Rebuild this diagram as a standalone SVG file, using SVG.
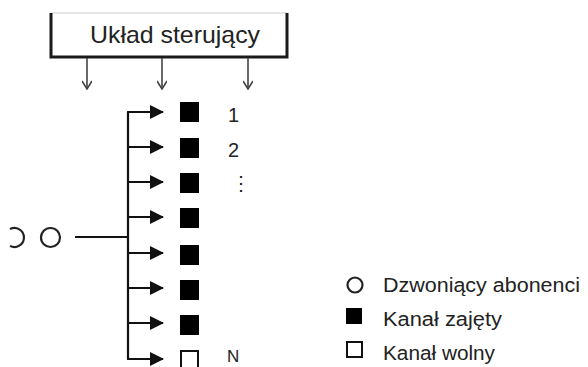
<svg xmlns="http://www.w3.org/2000/svg" width="588" height="367" viewBox="0 0 588 367">
  <style>
    .txt { font-family: "Liberation Sans", Arial, sans-serif; fill: #222; }
    .bus { fill: none; stroke: #111; stroke-width: 2.2; }
    .ctl { fill: none; stroke: #444; stroke-width: 1.6; }
    .occ { fill: #000; }
    .free { fill: #fff; stroke: #111; stroke-width: 2; }
    .sub { fill: none; stroke: #222; stroke-width: 2.2; }
  </style>
  <defs>
    <marker id="tri" viewBox="0 0 14 14" refX="13" refY="7" markerWidth="14" markerHeight="14" markerUnits="userSpaceOnUse" orient="auto">
      <path d="M0,0 L14,7 L0,14 Z" fill="#111"/>
    </marker>
    <marker id="chev" viewBox="0 0 12 10" refX="11" refY="5" markerWidth="12" markerHeight="10" markerUnits="userSpaceOnUse" orient="auto">
      <path d="M3,0 L11,5 L3,10" fill="none" stroke="#444" stroke-width="1.6"/>
    </marker>
  </defs>

  <!-- control unit -->
  <g id="control-unit">
    <line x1="51" y1="13" x2="287" y2="13" stroke="#ccc" stroke-width="1"/>
    <path d="M51,13 L51,57 L287,57 L287,13" fill="none" stroke="#1a1a1a" stroke-width="3"/>
    <text class="txt" x="90" y="43" font-size="24" textLength="170" lengthAdjust="spacingAndGlyphs">Układ sterujący</text>
  </g>

  <!-- calling subscribers -->
  <g id="subscribers">
    <path class="sub" d="M10,229.1 A9.5,9.5 0 1 1 10,245.9"/>
    <circle class="sub" cx="50.5" cy="237.5" r="9.5"/>
  </g>

  <!-- channels -->
  <g id="channel-1"><rect class="occ" x="180" y="102" width="19" height="20"/><text class="txt" x="228" y="122" font-size="20">1</text></g>
  <g id="channel-2"><rect class="occ" x="180" y="138" width="19" height="20"/><text class="txt" x="228" y="157" font-size="20">2</text></g>
  <g id="channel-3"><rect class="occ" x="180" y="173" width="19" height="20"/><text class="txt" x="231" y="190" font-size="20" fill="#999">⋮</text></g>
  <g id="channel-4"><rect class="occ" x="180" y="208" width="19" height="20"/></g>
  <g id="channel-5"><rect class="occ" x="180" y="245" width="19" height="20"/></g>
  <g id="channel-6"><rect class="occ" x="180" y="280" width="19" height="20"/></g>
  <g id="channel-7"><rect class="occ" x="180" y="315" width="19" height="20"/></g>
  <g id="channel-N"><rect class="free" x="181" y="351" width="17" height="20"/><text class="txt" x="227" y="362" font-size="17">N</text></g>

  <!-- connectors -->
  <g id="connectors">
    <line class="ctl" x1="87" y1="58" x2="87" y2="89" marker-end="url(#chev)" stroke="#888"/>
    <line class="ctl" x1="162" y1="58" x2="162" y2="89" marker-end="url(#chev)"/>
    <line class="ctl" x1="248" y1="58" x2="248" y2="89" marker-end="url(#chev)" stroke="#777"/>
    <line class="bus" x1="75" y1="237" x2="128" y2="237"/>
    <line class="bus" x1="128" y1="112" x2="128" y2="359"/>
    <line class="bus" x1="127" y1="112" x2="163" y2="112" marker-end="url(#tri)"/>
    <line class="bus" x1="128" y1="147" x2="163" y2="147" marker-end="url(#tri)"/>
    <line class="bus" x1="128" y1="182" x2="163" y2="182" marker-end="url(#tri)"/>
    <line class="bus" x1="128" y1="217" x2="163" y2="217" marker-end="url(#tri)"/>
    <line class="bus" x1="128" y1="253" x2="163" y2="253" marker-end="url(#tri)"/>
    <line class="bus" x1="128" y1="288" x2="163" y2="288" marker-end="url(#tri)"/>
    <line class="bus" x1="128" y1="323" x2="163" y2="323" marker-end="url(#tri)"/>
    <line class="bus" x1="127" y1="359" x2="163" y2="359" marker-end="url(#tri)"/>
  </g>

  <!-- legend -->
  <g id="legend">
    <circle class="sub" cx="355" cy="285" r="7.5"/>
    <text class="txt" x="383" y="292" font-size="20" textLength="197" lengthAdjust="spacingAndGlyphs">Dzwoniący abonenci</text>
    <rect class="occ" x="346" y="308" width="16" height="16"/>
    <text class="txt" x="383" y="326" font-size="20" textLength="119" lengthAdjust="spacingAndGlyphs">Kanał zajęty</text>
    <rect class="free" x="347" y="342" width="15" height="15"/>
    <text class="txt" x="383" y="360" font-size="20" textLength="112" lengthAdjust="spacingAndGlyphs">Kanał wolny</text>
  </g>
</svg>
